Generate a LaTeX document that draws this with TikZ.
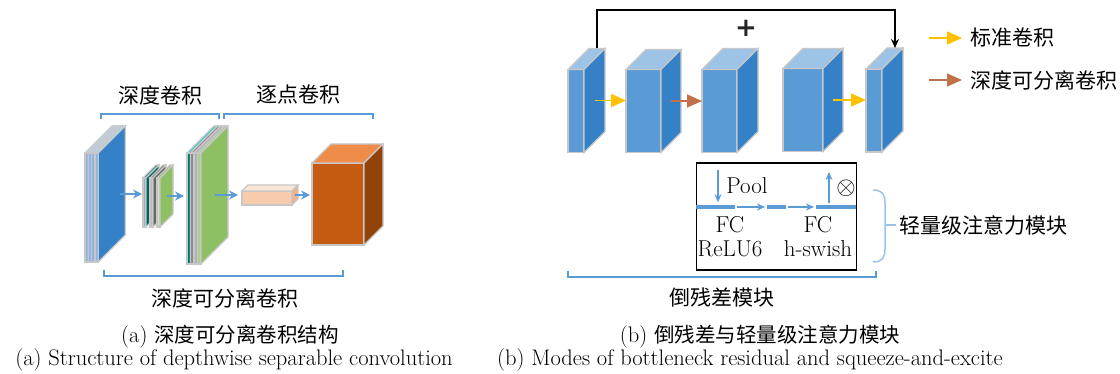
\documentclass[tikz,border=0pt]{standalone}
\usepackage{fontspec}
\newfontfamily\cjk{Noto Sans CJK SC}
\newfontfamily\plusfont{DejaVu Sans}
\usepackage{tikz}
\usetikzlibrary{arrows.meta}

\definecolor{arrowblue}{HTML}{5B9BD5}
\definecolor{braceblue}{HTML}{9DC3E6}
\definecolor{blockfront}{HTML}{5B9BD5}
\definecolor{blocktop}{HTML}{9DC3E6}
\definecolor{blockside}{HTML}{3481C8}
\definecolor{infront}{HTML}{8EB4E3}
\definecolor{intop}{HTML}{BDD7EE}
\definecolor{kteal}{HTML}{00665E}
\definecolor{kgrey}{HTML}{666666}
\definecolor{kgreen}{HTML}{8DC063}
\definecolor{gteal}{HTML}{007A72}
\definecolor{gcyan}{HTML}{33CCCC}
\definecolor{ggrey}{HTML}{8C8C8C}
\definecolor{glgrey}{HTML}{B0B0B0}
\definecolor{glgreen}{HTML}{A9D18E}
\definecolor{peachfront}{HTML}{F8CBAD}
\definecolor{peachtop}{HTML}{FBE5D6}
\definecolor{peachside}{HTML}{F4B183}
\definecolor{orfront}{HTML}{C55A11}
\definecolor{ortop}{HTML}{F08C4A}
\definecolor{orside}{HTML}{924309}
\definecolor{stdconv}{HTML}{FFC000}
\definecolor{dwconv}{HTML}{C0704A}

% name, front centre, width, height, depth, front/top/side colours
\newcommand{\cuboid}[8]{%
  \node[face, fill=#6, minimum width=#3, minimum height=#4] (#1) at (#2) {};
  \draw[face, fill=#7] (#1.north west) -- ++(#5,-#5) -- ++(#3,0) -- (#1.north east) -- cycle;
  \draw[face, fill=#8] (#1.north east) -- ++(#5,-#5) -- ++(0,#4) -- (#1.south east) -- cycle;
  \coordinate (#1 top) at ([shift={(#5,-#5)}]#1.north);
  \coordinate (#1 mid) at ([shift={(#5/2,-#5/2)}]#1.east);
}

\begin{document}
\begin{tikzpicture}[
  x=1pt, y=-1pt,
  face/.style={draw=black!22, line width=1.2pt, inner sep=0, outer sep=0},
  blarrow/.style={-{Stealth[length=9pt,width=9pt]}, line width=2pt, draw=arrowblue, fill=arrowblue},
  stdarrow/.style={-{Triangle[length=15pt,width=13pt]}, line width=1.5pt, draw=stdconv},
  dwarrow/.style={-{Triangle[length=15pt,width=13pt]}, line width=1.5pt, draw=dwconv},
  skiparrow/.style={-{Stealth[length=9pt,width=8pt]}, line width=1.5pt},
  bracket/.style={draw=arrowblue, line width=1.5pt},
  sebar/.style={fill=arrowblue, minimum height=3.5, inner sep=0, outer sep=0},
  searrow/.style={-{Stealth[length=8pt,width=7pt]}, line width=1.4pt, draw=arrowblue},
  lbl/.style={font=\cjk\fontsize{21}{24}\selectfont},
  txt/.style={font=\fontsize{23}{24}\selectfont, align=center},
  captxt/.style={font=\fontsize{22.5}{24}\selectfont}
]
\useasboundingbox (0,0) rectangle (1120,374);

% ---------- (a) depthwise separable convolution ----------
% input feature map
\foreach \i in {1,...,4}
  \cuboid{in\i}{{83.35+3.3*\i},207.5}{3.3}{109}{27}{infront}{intop}{blockside};
% depthwise kernels
\foreach \i/\c in {1/kteal,2/kgrey,3/kgreen}
  \cuboid{k\i}{{137.5+7*\i},202.5}{3}{49}{13}{\c!45!white}{\c}{\c};
% depthwise output
\foreach \i/\f/\t in {1/gteal/gcyan,2/ggrey/ggrey,3/glgrey/glgrey,4/glgreen/glgreen}
  \cuboid{g\i}{{185.25+3.5*\i},208.5}{3.5}{111}{27}{\f}{\t}{kgreen};
% pointwise kernel and output
\cuboid{pw}{267,198}{50}{14}{6}{peachfront}{peachtop}{peachside}
\cuboid{out}{338,204}{52}{82}{19}{orfront}{ortop}{orside}

\draw[blarrow, shorten >=1pt] ([xshift=8pt]in4 mid) -- (in4 mid -| k1.west);
\draw[blarrow, shorten >=3pt] (k3 mid) -- (k3 mid -| g1.west);
\draw[blarrow, shorten >=4pt] (g4 mid) -- (g4 mid -| pw.west);
\draw[blarrow, shorten >=2pt] (pw mid) -- (pw mid -| out.west);

% brackets
\draw[bracket] (101,119) -- (101,114) -- (219,114) -- (219,119);
\draw[bracket] (224,119) -- (224,114) -- (373,114) -- (373,119);
\draw[bracket] (104,270) -- (104,276) -- (343,276) -- (343,270);
\node[lbl] (dwlbl) at (160,95) {深度卷积};
\node[lbl] (pwlbl) at (298,95) {逐点卷积};
\node[lbl] (dsclbl) at (225,298) {深度可分离卷积};

% ---------- (b) bottleneck residual with SE ----------
\cuboid{b1}{576,111}{16}{83}{21}{blockfront}{blocktop}{blockside}
\cuboid{b2}{643.5,111}{35}{83}{20}{blockfront}{blocktop}{blockside}
\cuboid{b3}{719.5,111}{35}{83}{21}{blockfront}{blocktop}{blockside}
\cuboid{b4}{803,110}{40}{83}{20}{blockfront}{blocktop}{blockside}
\cuboid{b5}{874,110.5}{16}{83}{21}{blockfront}{blocktop}{blockside}

\draw[stdarrow] (b1 mid) -- (b1 mid -| b2.west);
\draw[dwarrow] (b2 mid) -- (b2 mid -| b3.west);
\draw[stdarrow] (b4 mid) -- (b4 mid -| b5.west);

% shortcut
\draw[skiparrow] (b1 top) -- ++(0,-38.5) -| (b5 top);
\node[font=\plusfont\bfseries\fontsize{26}{26}\selectfont, text=black!85] (plus) at (746,28) {+};

% legend
\node[lbl, anchor=west] (lgstd) at (967,38) {标准卷积};
\node[lbl, anchor=west] (lgdw) at (967,80) {深度可分离卷积};
\coordinate (lgstd tail) at (929,38);
\coordinate (lgdw tail) at (929,80);
\draw[stdarrow] (lgstd tail) -- ([xshift=-5pt]lgstd.west);
\draw[dwarrow] (lgdw tail) -- ([xshift=-5pt]lgdw.west);

% squeeze-and-excite block
\node[draw, line width=1.3pt, minimum width=160, minimum height=107, inner sep=0] (se) at (776.5,216.5) {};
\node[sebar, minimum width=39] (bar1) at (715.5,207) {};
\node[sebar, minimum width=19] (bar2) at (776.5,207) {};
\node[sebar, minimum width=40] (bar3) at (836,207) {};
\draw[searrow, shorten <=2pt, shorten >=2pt] (bar1.east) -- (bar2.west);
\draw[searrow, shorten <=2pt, shorten >=2pt] (bar2.east) -- (bar3.west);
\coordinate (pool in) at (718,170);
\coordinate (se out) at (829,172);
\draw[searrow, shorten >=3pt] (pool in) -- (pool in |- bar1.north);
\draw[searrow, shorten <=2pt] (se out |- bar3.north) -- (se out);
\node[txt] (pool) at (747,186) {Pool};
\node[txt] (mul) at (846,188) {$\otimes$};
\node[txt] (fc1) at (730,237) {FC\\ReLU6};
\node[txt] (fc2) at (818,237) {FC\\h-swish};

% brace and bottom bracket
\draw[draw=braceblue, line width=1.5pt] (873,190) .. controls (882,190) and (885,194) .. (885,203)
  -- (885,249) .. controls (885,258) and (882,262) .. (873,262);
\draw[draw=braceblue, line width=1.5pt] (885,225) -- (896,225);
\node[lbl] (selbl) at (983,225) {轻量级注意力模块};
\draw[bracket] (568,271) -- (568,277) -- (876,277) -- (876,271);
\node[lbl] (irlbl) at (722,298) {倒残差模块};

% captions
\node[captxt] (capa) at (230,337) {(a) {\cjk\fontsize{20.5}{24}\selectfont 深度可分离卷积结构}};
\node[captxt] (capaen) at (234,360) {(a) Structure of depthwise separable convolution};
\node[captxt] (capb) at (760,337) {(b) {\cjk\fontsize{20.5}{24}\selectfont 倒残差与轻量级注意力模块}};
\node[captxt] (capben) at (750,360) {(b) Modes of bottleneck residual and squeeze-and-excite};

\end{tikzpicture}
\end{document}
